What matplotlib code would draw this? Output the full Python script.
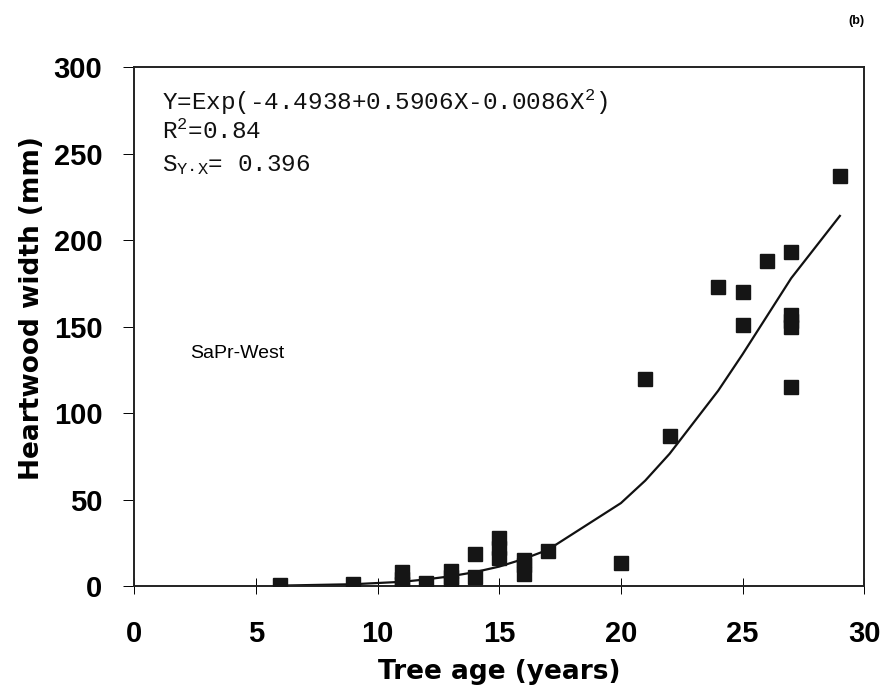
import numpy as np
import matplotlib
matplotlib.use("Agg")
from matplotlib import pyplot as plt

plt.rcParams['mathtext.fontset'] = 'custom'
plt.rcParams['mathtext.rm'] = 'Liberation Mono'
plt.rcParams['mathtext.it'] = 'Liberation Mono'

# measured points (tree age, heartwood width)
age = [6, 9, 11, 11, 11, 12, 13, 13, 13, 14, 14, 15, 15, 15, 16, 16, 16,
       17, 20, 21, 22, 24, 25, 25, 26, 27, 27, 27, 27, 27, 29]
width = [0.5, 1, 1, 4, 8, 2, 1, 5, 9, 18.5, 5, 16, 22, 28, 7, 12, 15,
         20.5, 13.5, 120, 86.5, 173, 170, 151, 188, 193, 157, 153, 150, 115, 237]

# fitted curve
fit_age = [6, 9, 11, 12, 13, 14, 15, 16, 17, 20, 21, 22, 24, 25, 26, 27, 29]
fit_width = [0.3, 1.1, 2.5, 3.9, 5.7, 8.1, 11.3, 15.7, 21.0, 48, 61, 76.5,
             113, 134, 156, 178, 214]

xticks = [0, 5, 10, 15, 20, 25, 30]
yticks = [0, 50, 100, 150, 200, 250, 300]

fig = plt.figure(figsize=(8.9, 6.92), dpi=100)
ax = fig.add_axes([0.151, 0.153, 0.820, 0.750])

ax.plot(fit_age, fit_width, color="#111111", lw=1.6, zorder=2)
ax.plot(age, width, ls="none", marker="s", ms=10, color="#151515", zorder=3)

ax.set_xlim(0, 30)
ax.set_ylim(0, 300)
ax.set_xticks(xticks)
ax.set_yticks(yticks)
ax.tick_params(axis="x", direction="inout", length=11, width=0.7, pad=19)
ax.tick_params(axis="y", direction="out", length=8, width=0.7, pad=15)
for lab in ax.get_xticklabels() + ax.get_yticklabels():
    lab.set_fontsize(21)
    lab.set_fontweight("bold")
    lab.set_fontfamily("Liberation Sans")
for s in ax.spines.values():
    s.set_linewidth(1.4)
    s.set_color("#222222")

ax.set_xlabel("Tree age (years)", fontsize=19, fontweight="bold",
              family="DejaVu Sans")
ax.set_ylabel("Heartwood width (mm)", fontsize=19, fontweight="bold",
              family="DejaVu Sans")
ax.xaxis.set_label_coords(0.5, -0.14)
ax.yaxis.set_label_coords(-0.122, 0.536)

mono = dict(family="Liberation Mono", fontsize=17.5, color="#111111",
            transform=ax.transAxes, va="center", ha="left")
ax.text(0.038, 0.932, "Y=Exp(-4.4938+0.5906X-0.0086X$^2$)", **mono)
ax.text(0.038, 0.875, "R$^2$=0.84", **mono)
ax.text(0.038, 0.812, "S$_{\\mathrm{Y\u00b7X}}$= 0.396", **mono)

ax.text(0.077, 0.448, "SaPr-West", transform=ax.transAxes, fontsize=14,
        family="Liberation Sans", va="center", ha="left")

fig.text(0.962, 0.97, "(b)", fontsize=9, fontweight="bold",
         family="Liberation Sans", ha="center", va="center")

plt.savefig("out.png", dpi=100)
